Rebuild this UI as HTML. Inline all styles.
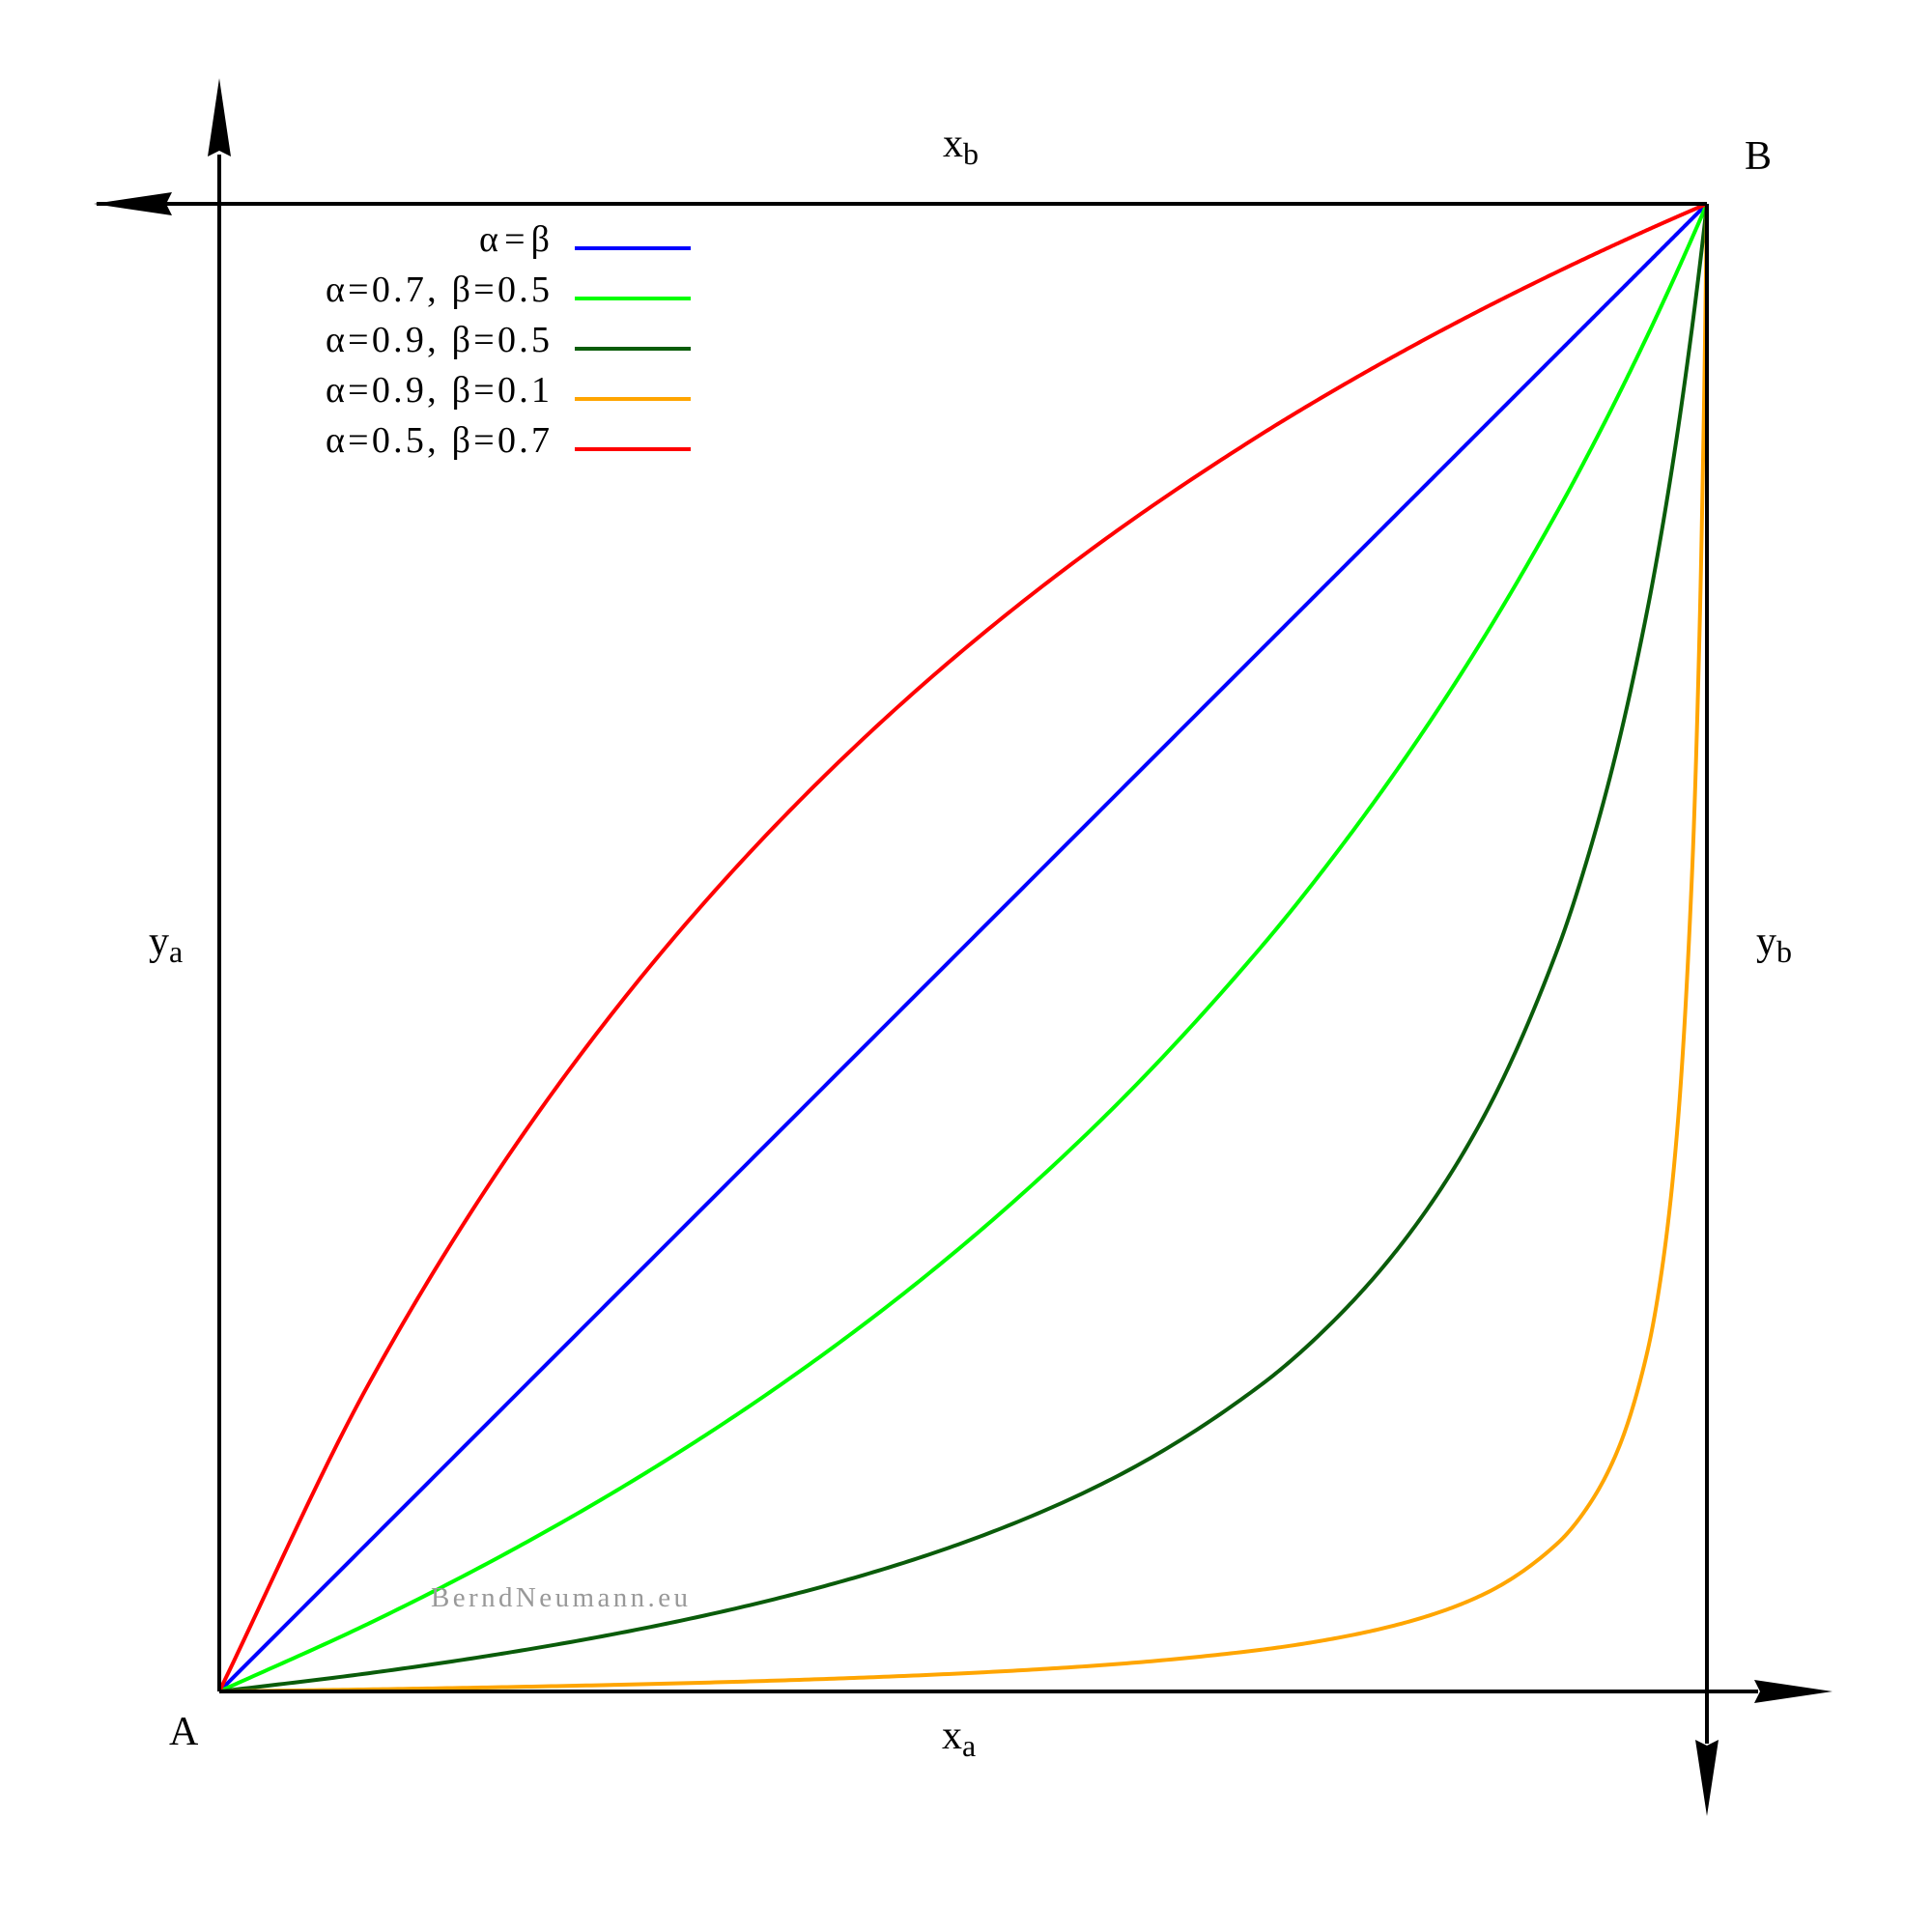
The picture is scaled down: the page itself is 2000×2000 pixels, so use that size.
<!DOCTYPE html>
<html><head><meta charset="utf-8"><style>
html,body{margin:0;padding:0;background:#fff;}
svg{display:block;}
text{font-family:"Liberation Serif",serif;}
</style></head><body>
<svg id="chart" width="2000" height="2000" viewBox="0 0 2000 2000">
<g id="curves"></g>
<g id="axes">
 <line x1="100" y1="211" x2="1767" y2="211" stroke="#000" stroke-width="4"/>
 <line x1="227" y1="160" x2="227" y2="1751" stroke="#000" stroke-width="4"/>
 <line x1="227" y1="1751" x2="1820" y2="1751" stroke="#000" stroke-width="4"/>
 <line x1="1767" y1="211" x2="1767" y2="1805" stroke="#000" stroke-width="4"/>
 <polygon points="227,81 239,162 227,156 215,162" fill="#000"/>
 <polygon points="97,211 178,199 172,211 178,223" fill="#000"/>
 <polygon points="1897,1751 1816,1739 1822,1751 1816,1763" fill="#000"/>
 <polygon points="1767,1880 1755,1801 1767,1807 1779,1801" fill="#000"/>
</g>
<g font-size="42" fill="#000">
 <text x="976" y="162">x<tspan font-size="32" dy="8">b</tspan></text>
 <text x="1806" y="175">B</text>
 <text x="154" y="988">y<tspan font-size="32" dy="8">a</tspan></text>
 <text x="1818" y="988">y<tspan font-size="32" dy="8">b</tspan></text>
 <text x="175" y="1806">A</text>
 <text x="975" y="1810">x<tspan font-size="32" dy="8">a</tspan></text>
</g>
<text x="446" y="1663" font-size="29" fill="#999" textLength="266" lengthAdjust="spacing">BerndNeumann.eu</text>
<g id="legend"></g>
</svg>
<script>
const xs=[0,0.1,0.2,0.3,0.4,0.5,0.6,0.7,0.75,0.8,0.85,0.9,0.92,0.94,0.96,0.97,0.98,0.99,0.995,0.998,1];
const seriesNames=["α=β","α=0.7, β=0.5","α=0.9, β=0.5","α=0.9, β=0.1","α=0.5, β=0.7"];
const seriesColors=["#0000ff","#00ff00","#0a5c0a","#ffa500","#ff0000"];
const yBlue=[0,0.1,0.2,0.3,0.4,0.5,0.6,0.7,0.75,0.8,0.85,0.9,0.92,0.94,0.96,0.97,0.98,0.99,0.995,0.998,1];
const yGreen=[0,0.04545,0.09677,0.15517,0.22222,0.3,0.3913,0.5,0.5625,0.63158,0.70833,0.79412,0.83133,0.87037,0.91139,0.93269,0.95455,0.97697,0.98841,0.99535,1];
const yDarkGreen=[0,0.0122,0.02703,0.04545,0.06897,0.1,0.14286,0.20588,0.25,0.30769,0.38636,0.5,0.56098,0.63514,0.72727,0.78226,0.84483,0.91667,0.95673,0.98228,1];
const yOrange=[0,0.00137,0.00308,0.00526,0.00816,0.0122,0.01818,0.028,0.03571,0.04706,0.06538,0.1,0.12432,0.16207,0.22857,0.28529,0.37692,0.55,0.71071,0.86186,1];
const yRed=[0,0.20588,0.36842,0.5,0.6087,0.7,0.77778,0.84483,0.875,0.90323,0.92969,0.95455,0.96407,0.97337,0.98246,0.98692,0.99133,0.99569,0.99785,0.99914,1];
const allY=[yBlue,yGreen,yDarkGreen,yOrange,yRed];
const X0=227,X1=1767,Y0=1751,Y1=211;
function sx(v){return X0+v*(X1-X0);}
function sy(v){return Y0-v*(Y0-Y1);}
function monoPoints(x,y){
  const n=x.length,d=[],m=new Array(n);
  for(let i=0;i<n-1;i++)d.push((y[i+1]-y[i])/(x[i+1]-x[i]));
  m[0]=d[0];m[n-1]=d[n-2];
  for(let i=1;i<n-1;i++){
    if(d[i-1]*d[i]<=0)m[i]=0;
    else{const w1=2*(x[i+1]-x[i])+(x[i]-x[i-1]),w2=(x[i+1]-x[i])+2*(x[i]-x[i-1]);
      m[i]=(w1+w2)/(w1/d[i-1]+w2/d[i]);}
  }
  const pts=[];
  for(let i=0;i<n-1;i++){
    const h=x[i+1]-x[i];
    for(let k=0;k<30;k++){
      const t=k/30,t2=t*t,t3=t2*t;
      const v=(2*t3-3*t2+1)*y[i]+(t3-2*t2+t)*h*m[i]+(-2*t3+3*t2)*y[i+1]+(t3-t2)*h*m[i+1];
      pts.push(sx(x[i]+t*h).toFixed(2)+','+sy(v).toFixed(2));
    }
  }
  pts.push(sx(x[n-1]).toFixed(2)+','+sy(y[n-1]).toFixed(2));
  return pts.join(' ');
}
const NS="http://www.w3.org/2000/svg";
const cg=document.getElementById('curves');
const keys=['blue','green','dark-green','orange','red'];
allY.forEach((ys,i)=>{
  const p=document.createElementNS(NS,'polyline');
  p.setAttribute('points',monoPoints(xs,ys));
  p.setAttribute('fill','none');
  p.setAttribute('stroke',seriesColors[i]);
  p.setAttribute('stroke-width','4');
  p.setAttribute('stroke-linejoin','round');
  
  
  cg.appendChild(p);
});
const legendWidths=[73,232,232,232,232];
const lg=document.getElementById('legend');
seriesNames.forEach((n,i)=>{
  const y=257+i*52;
  const t=document.createElementNS(NS,'text');
  t.setAttribute('x',(569-legendWidths[i]).toString());t.setAttribute('y',(y+3).toFixed(1));
  t.setAttribute('font-size','38');
  t.setAttribute('textLength',legendWidths[i].toString());
  t.setAttribute('lengthAdjust','spacing');
  t.textContent=n;
  
  
  lg.appendChild(t);
  const l=document.createElementNS(NS,'line');
  l.setAttribute('x1','595');l.setAttribute('x2','715');
  l.setAttribute('y1',y.toFixed(1));l.setAttribute('y2',y.toFixed(1));
  l.setAttribute('stroke',seriesColors[i]);l.setAttribute('stroke-width','4');
  
  
  lg.appendChild(l);
});
</script>
</body></html>
